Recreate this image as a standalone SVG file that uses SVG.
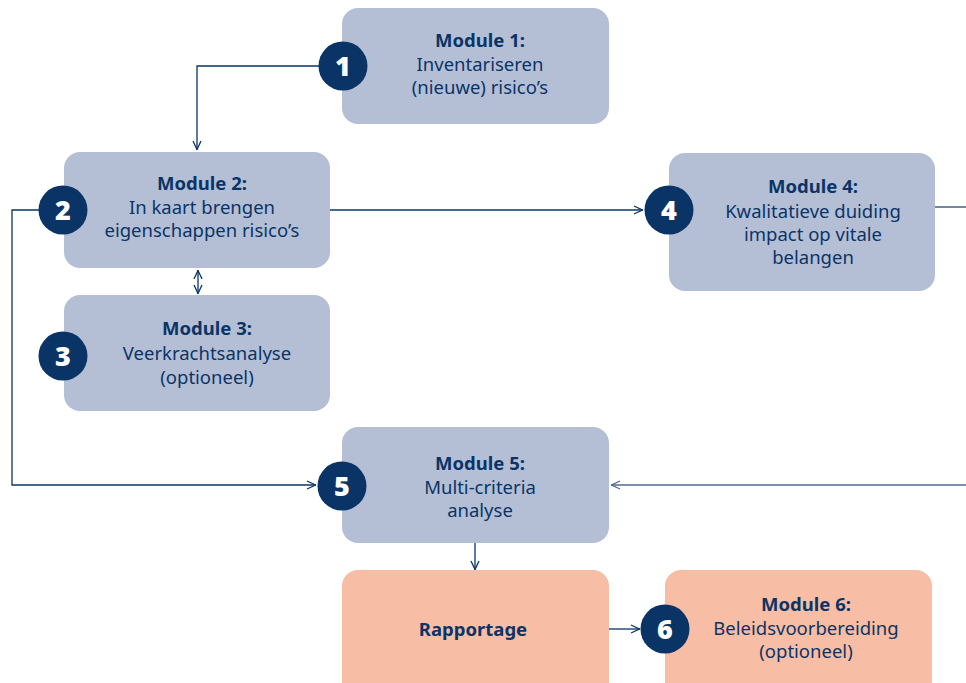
<svg xmlns="http://www.w3.org/2000/svg" width="966" height="683" viewBox="0 0 966 683">
<defs>
<marker id="arr" viewBox="0 0 10 10" refX="10" refY="5" markerWidth="10" markerHeight="10" markerUnits="userSpaceOnUse" orient="auto-start-reverse">
<path d="M1,1 L9.5,5 L1,9" fill="none" stroke="#0b3466" stroke-width="1.3"/>
</marker>
<marker id="arr2" viewBox="0 0 10 10" refX="10" refY="5" markerWidth="10" markerHeight="10" markerUnits="userSpaceOnUse" orient="auto-start-reverse">
<path d="M1,1 L9.5,5 L1,9" fill="none" stroke="#4f6b90" stroke-width="1.3"/>
</marker>
</defs>
<style>
.box{fill:#b4bfd6}
.box2{fill:#f8bda5}
.badge{fill:#0b3466}
.num{font-family:"Noto Sans","Lato",sans-serif;font-weight:900;font-size:27px;fill:#fff;text-anchor:middle}
.t{font-family:"Noto Sans","Lato",sans-serif;font-weight:700;font-size:18.5px;fill:#0b3466;text-anchor:middle}
.b{font-family:"Noto Sans","Lato",sans-serif;font-size:18.5px;fill:#0b3466;text-anchor:middle}
.c{fill:none;stroke:#0b3466;stroke-width:1.3}
.c2{fill:none;stroke:#4f6b90;stroke-width:1.6}
</style>
<rect width="966" height="683" fill="#fff"/>
<g id="connectors">
<path class="c" d="M319,66 H197 V150" marker-end="url(#arr)"/>
<path class="c" d="M40,210 H12 V485 H316" marker-end="url(#arr)"/>
<path class="c" d="M330,210 H643" marker-end="url(#arr)"/>
<path class="c" d="M198,270 V294" marker-start="url(#arr)" marker-end="url(#arr)"/>
<path class="c2" d="M935,207 H966"/>
<path class="c2" d="M966,485 H611" marker-end="url(#arr2)"/>
<path class="c" d="M475,543 V570" marker-end="url(#arr)"/>
<path class="c" stroke-width="1.8" d="M609,629 H640" marker-end="url(#arr)"/>
</g>
<g id="module1">
<rect class="box" x="342" y="8" width="267" height="116" rx="16"/>
<circle class="badge" cx="343" cy="66" r="24.5"/>
<text class="num" x="343" y="75.5">1</text>
<text class="t" x="480" y="47">Module 1:</text>
<text class="b" x="480" y="71">Inventariseren</text>
<text class="b" x="480" y="94">(nieuwe) risico’s</text>
</g>
<g id="module2">
<rect class="box" x="64" y="152" width="266" height="116" rx="16"/>
<circle class="badge" cx="63" cy="210" r="24.5"/>
<text class="num" x="63" y="219.5">2</text>
<text class="t" x="202" y="190">Module 2:</text>
<text class="b" x="202" y="214">In kaart brengen</text>
<text class="b" x="202" y="237">eigenschappen risico’s</text>
</g>
<g id="module3">
<rect class="box" x="64" y="295" width="266" height="116" rx="16"/>
<circle class="badge" cx="63" cy="356" r="24.5"/>
<text class="num" x="63" y="365.5">3</text>
<text class="t" x="207" y="335">Module 3:</text>
<text class="b" x="207" y="360">Veerkrachtsanalyse</text>
<text class="b" x="207" y="384">(optioneel)</text>
</g>
<g id="module4">
<rect class="box" x="669" y="153" width="266" height="138" rx="16"/>
<circle class="badge" cx="669" cy="210" r="24.5"/>
<text class="num" x="669" y="219.5">4</text>
<text class="t" x="813" y="193">Module 4:</text>
<text class="b" x="813" y="218">Kwalitatieve duiding</text>
<text class="b" x="813" y="241">impact op vitale</text>
<text class="b" x="813" y="264">belangen</text>
</g>
<g id="module5">
<rect class="box" x="342" y="427" width="267" height="116" rx="16"/>
<circle class="badge" cx="342" cy="486" r="24.5"/>
<text class="num" x="342" y="495.5">5</text>
<text class="t" x="480" y="470">Module 5:</text>
<text class="b" x="480" y="494">Multi-criteria</text>
<text class="b" x="480" y="517">analyse</text>
</g>
<g id="rapportage">
<rect class="box2" x="342" y="570" width="267" height="130" rx="16"/>
<text class="t" x="473" y="636">Rapportage</text>
</g>
<g id="module6">
<rect class="box2" x="665" y="570" width="267" height="130" rx="16"/>
<circle class="badge" cx="665" cy="629" r="24.5"/>
<text class="num" x="665" y="638.5">6</text>
<text class="t" x="806" y="611">Module 6:</text>
<text class="b" x="806" y="635">Beleidsvoorbereiding</text>
<text class="b" x="806" y="658">(optioneel)</text>
</g>
</svg>
